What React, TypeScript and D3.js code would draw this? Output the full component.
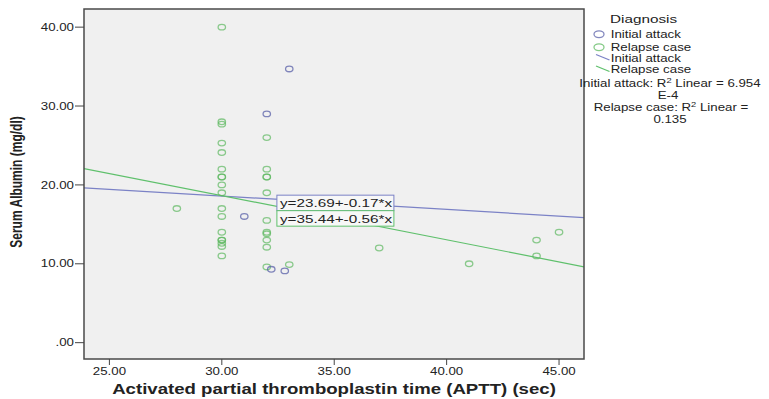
import React from 'react';
import * as d3 from 'd3';

// Initial attack (blue)
const initialAptt = [33, 32, 31, 32.2, 32.8];
const initialAlbumin = [34.7, 29, 16, 9.3, 9.1];

// Relapse case (green)
const relapseAptt = [
  30, 30, 30, 30, 30, 30, 30, 30, 30, 30, 30, 30, 30, 30, 30, 30, 30, 30,
  32, 32, 32, 32, 32, 32, 32, 32, 32, 32, 32,
  28, 33, 37, 41, 44, 44, 45,
];
const relapseAlbumin = [
  40, 28, 27.7, 25.3, 24.1, 22, 21, 21, 20, 19, 17, 16, 14, 13, 13, 12.6, 12.2, 11,
  26, 22, 21, 21, 19, 15.5, 14, 13.8, 13, 12.1, 9.6,
  17, 9.9, 12, 10, 13, 11, 14,
];

// linear fits: [intercept, slope]
const fitInitial = [23.69, -0.17];
const fitRelapse = [35.44, -0.56];

const xTicks = [25, 30, 35, 40, 45];
const yTicks = [0, 10, 20, 30, 40];
const groups = ['Initial attack', 'Relapse case'];
const rSquared = ['6.954', '0.135'];

const W = 769;
const H = 399;
const SX = 1.33; // the picture is stretched sideways
const FONT = 'Liberation Sans, Arial, sans-serif';
const BLUE = '#5a60a8';
const GREEN = '#5cb85f';
const BLUE_LINE = '#7b82c6';
const GREEN_LINE = '#5fc06c';

const plot = { left: 84, right: 584, top: 9, bottom: 359 };

const T = ({ x, y, size, anchor = 'start', weight = 'normal', rotate = false, children }: any) => (
  <text
    transform={`translate(${x},${y}) scale(${SX},1)${rotate ? ' rotate(-90)' : ''}`}
    textAnchor={anchor}
    fontFamily={FONT}
    fontSize={size}
    fontWeight={weight}
    fill="#222"
  >
    {children}
  </text>
);

const App: React.FC = () => {
  const x = d3.scaleLinear().domain([23.87, 46.11]).range([plot.left, plot.right]);
  const y = d3.scaleLinear().domain([-2.07, 42.3]).range([plot.bottom, plot.top]);
  const fmt = (v: number) => d3.format('.2f')(v).replace(/^0\./, '.');

  const fitLine = (f: number[]) => {
    const [a, b] = x.domain();
    return d3.line<number>().x(d => x(d)).y(d => y(f[0] + f[1] * d))([a, b]) || '';
  };

  const eqX = x(32.45);
  const eqW = 117;
  const eqY = y(18.7);
  const eqH = 15.5;

  return (
    <svg width={W} height={H} style={{ position: 'absolute', left: 0, top: 0, background: '#fff' }}>
      <rect x={plot.left} y={plot.top} width={plot.right - plot.left} height={plot.bottom - plot.top}
        fill="#f0f0f0" />

      <defs>
        <clipPath id="plotClip">
          <rect x={plot.left} y={plot.top} width={plot.right - plot.left} height={plot.bottom - plot.top} />
        </clipPath>
      </defs>

      <g clipPath="url(#plotClip)">
        <path d={fitLine(fitInitial)} stroke={BLUE_LINE} strokeWidth={1.2} fill="none" />
        <path d={fitLine(fitRelapse)} stroke={GREEN_LINE} strokeWidth={1.2} fill="none" />
      </g>

      {relapseAptt.map((v, i) => (
        <ellipse key={'r' + i} cx={x(v)} cy={y(relapseAlbumin[i])} rx={3.7} ry={2.8}
          fill="none" stroke={GREEN} strokeOpacity={0.7} strokeWidth={1.3} />
      ))}
      {initialAptt.map((v, i) => (
        <ellipse key={'i' + i} cx={x(v)} cy={y(initialAlbumin[i])} rx={3.7} ry={2.8}
          fill="none" stroke={BLUE} strokeOpacity={0.75} strokeWidth={1.3} />
      ))}

      {/* fit equations */}
      <rect x={eqX} y={eqY} width={eqW} height={eqH} fill="#f7f7f7" stroke={BLUE_LINE} strokeWidth={1} />
      <rect x={eqX} y={eqY + eqH} width={eqW} height={eqH} fill="#f7f7f7" stroke={GREEN_LINE} strokeWidth={1} />
      <T x={eqX + 3} y={eqY + 12} size={11.5}>{`y=${fitInitial[0]}+${fitInitial[1]}*x`}</T>
      <T x={eqX + 3} y={eqY + eqH + 12} size={11.5}>{`y=${fitRelapse[0]}+${fitRelapse[1]}*x`}</T>

      <rect x={plot.left} y={plot.top} width={plot.right - plot.left} height={plot.bottom - plot.top}
        fill="none" stroke="#4a4a4a" strokeWidth={1.5} />

      {yTicks.map(t => (
        <g key={'y' + t}>
          <line x1={plot.left - 9} x2={plot.left} y1={y(t)} y2={y(t)} stroke="#444" />
          <T x={plot.left - 10} y={y(t) + 3.6} size={10} anchor="end">{fmt(t)}</T>
        </g>
      ))}
      {xTicks.map(t => (
        <g key={'x' + t}>
          <line x1={x(t)} x2={x(t)} y1={plot.bottom} y2={plot.bottom + 6} stroke="#444" />
          <T x={x(t)} y={375} size={10} anchor="middle">{fmt(t)}</T>
        </g>
      ))}

      <T x={(plot.left + plot.right) / 2} y={394} size={14} weight="bold" anchor="middle">
        Activated partial thromboplastin time (APTT) (sec)
      </T>
      <T x={21.5} y={182} size={12} weight="bold" anchor="middle" rotate>
        Serum Albumin (mg/dl)
      </T>

      {/* legend */}
      <T x={610} y={23} size={11.5}>Diagnosis</T>
      {groups.map((g, i) => (
        <g key={'lg' + i}>
          <ellipse cx={599} cy={34.3 + i * 13} rx={5} ry={3.4} fill="none"
            stroke={i === 0 ? BLUE : GREEN} strokeOpacity={0.75} strokeWidth={1.3} />
          <T x={610.7} y={38 + i * 13} size={10}>{g}</T>
        </g>
      ))}
      {groups.map((g, i) => (
        <g key={'ll' + i}>
          <line x1={596} x2={609.5} y1={54.5 + i * 11.5} y2={60 + i * 11.5}
            stroke={i === 0 ? BLUE_LINE : GREEN_LINE} strokeWidth={1.3} />
          <T x={610.7} y={61.5 + i * 11.5} size={10}>{g}</T>
        </g>
      ))}
      <T x={670} y={87} size={10} anchor="middle">
        {`${groups[0]}: R`}<tspan dy={-4} fontSize={7}>2</tspan><tspan dy={4}>{` Linear = ${rSquared[0]}`}</tspan>
      </T>
      <T x={668} y={98.7} size={10} anchor="middle">E-4</T>
      <T x={671} y={111} size={10} anchor="middle">
        {`${groups[1]}: R`}<tspan dy={-4} fontSize={7}>2</tspan><tspan dy={4}> Linear =</tspan>
      </T>
      <T x={670} y={122.5} size={10} anchor="middle">{rSquared[1]}</T>
    </svg>
  );
};

export default App;
